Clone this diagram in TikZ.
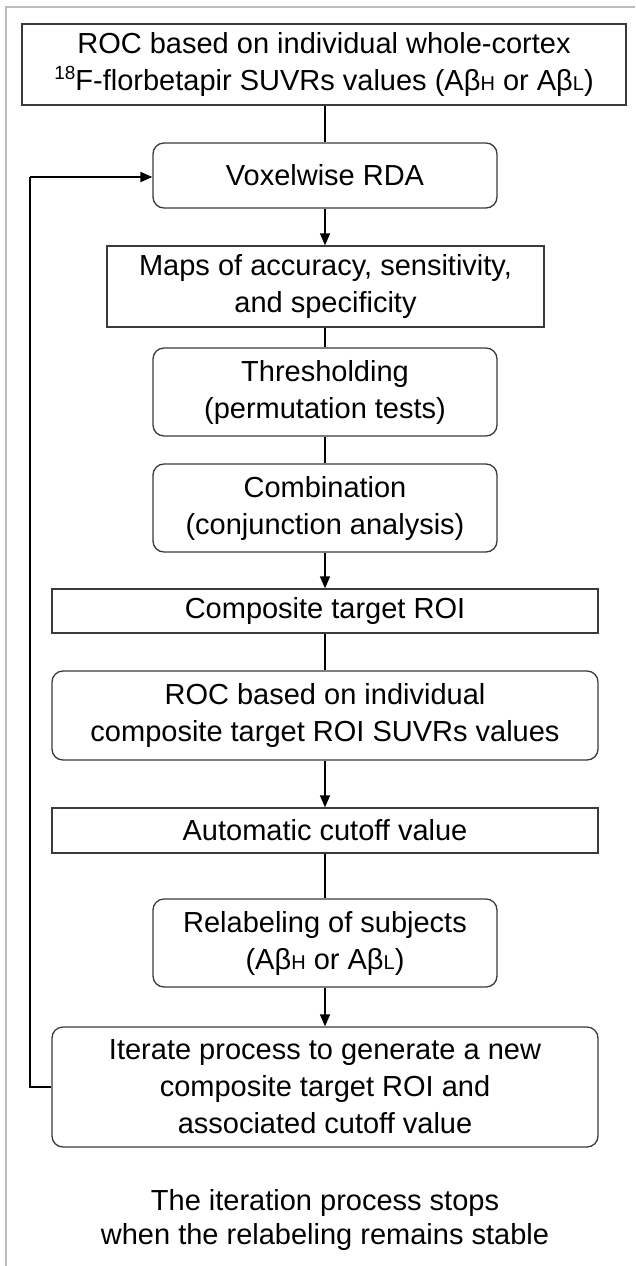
\documentclass[tikz,border=0pt]{standalone}
\usepackage{fontspec}
\setmainfont{Liberation Sans}
\usetikzlibrary{arrows.meta}
\definecolor{boxline}{HTML}{3A3A3A}
\definecolor{framegray}{HTML}{BDBDBD}
\newcommand{\smallsub}[1]{{\fontsize{20}{20}\selectfont #1}}
\newcommand{\smallsup}[1]{\raisebox{0.38em}{\fontsize{19}{19}\selectfont #1}}
\begin{document}
\begin{tikzpicture}[x=1pt,y=-1pt,
  every node/.style={font=\fontsize{29}{37}\selectfont, align=center, inner sep=0pt, text=black},
  rectbox/.style={draw=boxline, line width=1.3pt},
  roundbox/.style={draw=boxline, line width=1.3pt, rounded corners=11pt},
  conn/.style={draw=black, line width=1.4pt},
  arr/.style={conn, -{Triangle[length=12pt,width=10pt]}},
  fb/.style={draw=black, line width=2pt}]
\useasboundingbox (0,0) rectangle (635,1266);
\draw[framegray, line width=1.5pt] (6,1266) -- (6,7) -- (635,7);

\node[rectbox, minimum width=604pt, minimum height=81pt] (top) at (324,64.5)
  {ROC based on individual whole-cortex\\ \smallsup{18}F-florbetapir SUVRs values (Aβ\smallsub{H} or Aβ\smallsub{L})};
\node[roundbox, minimum width=344pt, minimum height=65pt] (vox) at (325,175.5) {Voxelwise RDA};
\node[rectbox, minimum width=437pt, minimum height=81pt] (maps) at (325.5,286.5) {Maps of accuracy, sensitivity,\\and specificity};
\node[roundbox, minimum width=344pt, minimum height=88pt] (thr) at (325,392) {Thresholding\\(permutation tests)};
\node[roundbox, minimum width=344pt, minimum height=88pt] (comb) at (325,508) {Combination\\(conjunction analysis)};
\node[rectbox, minimum width=546pt, minimum height=44pt] (comp) at (325,611) {Composite target ROI};
\node[roundbox, minimum width=546pt, minimum height=89pt] (roc) at (325,715.5) {ROC based on individual\\composite target ROI SUVRs values};
\node[rectbox, minimum width=546pt, minimum height=45pt] (auto) at (325,830.5) {Automatic cutoff value};
\node[roundbox, minimum width=344pt, minimum height=88pt] (relab) at (325,943) {Relabeling of subjects\\(Aβ\smallsub{H} or Aβ\smallsub{L})};
\node[roundbox, minimum width=546pt, minimum height=120pt] (iter) at (325,1087) {Iterate process to generate a new\\composite target ROI and\\associated cutoff value};
\node[font=\fontsize{29}{34}\selectfont] (note) at (325,1220) {The iteration process stops\\when the relabeling remains stable};

\draw[conn] (top.south -| vox.north) -- (vox.north);
\draw[arr] (vox.south) -- (maps.north -| vox.south);
\draw[conn] (maps.south -| thr.north) -- (thr.north);
\draw[conn] (thr.south) -- (comb.north);
\draw[arr] (comb.south) -- (comp.north);
\draw[conn] (comp.south) -- (roc.north);
\draw[arr] (roc.south) -- (auto.north);
\draw[conn] (auto.south) -- (relab.north);
\draw[arr] (relab.south) -- (iter.north);

\coordinate (fbl) at (30,1087);
\coordinate (fbt) at (30,177);
\draw[fb] (iter.west) -- (fbl) -- (fbt);
\draw[fb, -{Triangle[length=12pt,width=10pt]}] (fbt) -- (vox.west |- fbt);
\end{tikzpicture}
\end{document}
